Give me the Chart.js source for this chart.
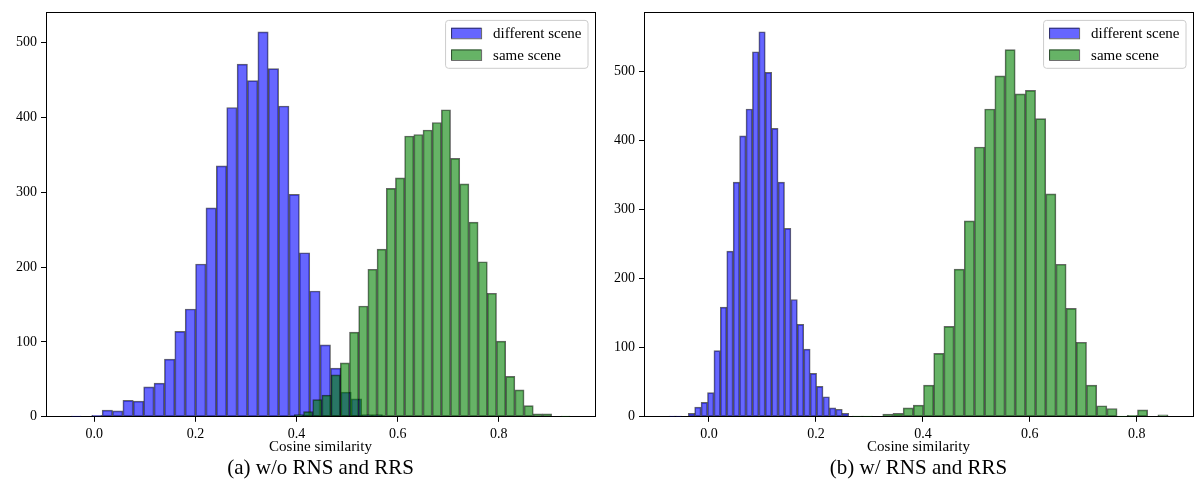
<!DOCTYPE html>
<html>
<head>
<meta charset="utf-8">
<title>Cosine similarity histograms</title>
<script src="https://cdn.jsdelivr.net/npm/chart.js@4.4.1/dist/chart.umd.min.js"></script>
<style>
    html, body { margin: 0; padding: 0; background: #fff; }
    .row { display: flex; width: 1194px; height: 481px; }
    .panel { width: 597px; height: 481px; }
</style>
</head>
<body>
<div class="row">
    <div class="panel"><canvas id="chartA" width="597" height="481"></canvas></div>
    <div class="panel"><canvas id="chartB" width="597" height="481"></canvas></div>
</div>
<script>
const seriesLabels = ['different scene', 'same scene'];
const xTickValues = [0.0, 0.2, 0.4, 0.6, 0.8];
const xTickLabels = ['0.0', '0.2', '0.4', '0.6', '0.8'];
const yTickValues = [0, 100, 200, 300, 400, 500];
const yTickLabels = ['0', '100', '200', '300', '400', '500'];
const xAxisTitle = 'Cosine similarity';

// (a) w/o RNS and RRS -- bins: first left edge + bin width
const aDiffStart = -0.0463;
const aDiffWidth = 0.02054;
const aDiffCounts = [1, 0, 2, 9, 8, 22, 21, 40, 45, 77, 114, 144, 204, 279, 335,
                     413, 471, 449, 514, 465, 415, 297, 219, 168, 96, 65, 33, 24, 3, 3];
const aSameStart = 0.3956;
const aSameWidth = 0.01818;
const aSameCounts = [3, 7, 23, 29, 56, 72, 113, 148, 197, 224, 305, 319, 375, 377, 383,
                     393, 410, 345, 311, 260, 207, 165, 101, 54, 36, 15, 4, 4, 0, 1];

// (b) w/ RNS and RRS
const bDiffStart = -0.0747;
const bDiffWidth = 0.0120;
const bDiffCounts = [1, 1, 0, 5, 14, 21, 35, 96, 159, 240, 340, 407, 446, 529, 558,
                     499, 418, 340, 273, 170, 134, 98, 63, 44, 29, 13, 11, 5];
const bSameStart = 0.2678;
const bSameWidth = 0.01905;
const bSameCounts = [1, 1, 0, 4, 5, 13, 17, 46, 92, 131, 214, 284, 391, 446, 494,
                     532, 468, 473, 432, 323, 221, 157, 108, 46, 16, 12, 1, 2, 10, 0, 3];

const BLUE = 'rgba(0, 0, 255, 0.6)';
const GREEN = 'rgba(0, 128, 0, 0.6)';
const EDGE = 'rgba(0, 0, 0, 0.6)';
const FONT = '"Liberation Serif", "Times New Roman", serif';

Chart.defaults.font.family = FONT;
Chart.defaults.color = '#000';

function binPoints(start, width, counts) {
    return counts.map((c, i) => ({ x: start + width * (i + 0.5), y: c }));
}

// matplotlib-style legend box in the upper right of the axes
const boxLegend = {
    id: 'boxLegend',
    afterDraw(chart) {
        const { ctx, chartArea } = chart;
        const fs = 15;
        const pad = 0.4 * fs, axPad = 0.5 * fs, handleW = 2 * fs, handleH = 0.7 * fs;
        const textPad = 0.8 * fs, rowH = 14.2, rowGap = 0.5 * fs;
        const items = chart.data.datasets;

        ctx.save();
        ctx.font = `${fs}px ${FONT}`;
        const textW = Math.max(...items.map(d => ctx.measureText(d.label).width));
        const boxW = pad * 2 + handleW + textPad + textW;
        const boxH = pad * 2 + items.length * rowH + (items.length - 1) * rowGap;
        const bx = chartArea.right - axPad - boxW;
        const by = chartArea.top + axPad;

        ctx.beginPath();
        ctx.roundRect(bx + 0.5, by + 0.5, boxW, boxH, 3);
        ctx.fillStyle = 'rgba(255, 255, 255, 0.8)';
        ctx.fill();
        ctx.strokeStyle = '#cccccc';
        ctx.lineWidth = 1;
        ctx.stroke();

        items.forEach((d, i) => {
            const cy = by + pad + i * (rowH + rowGap) + rowH / 2;
            const hx = bx + pad;
            ctx.fillStyle = '#fff';
            ctx.fillRect(hx, cy - handleH / 2, handleW, handleH);
            ctx.fillStyle = d.backgroundColor;
            ctx.fillRect(hx, cy - handleH / 2, handleW, handleH);
            ctx.strokeStyle = d.borderColor;
            ctx.strokeRect(hx + 0.5, cy - handleH / 2 + 0.5, handleW, handleH);
            ctx.fillStyle = '#000';
            ctx.textBaseline = 'middle';
            ctx.textAlign = 'left';
            ctx.fillText(d.label, hx + handleW + textPad, cy + 1);
        });
        ctx.restore();
    }
};

function makeHistChart(id, cfg) {
    const tickFont = { size: 14, family: FONT };
    return new Chart(document.getElementById(id), {
        type: 'bar',
        data: {
            datasets: [{
                label: seriesLabels[0],
                data: binPoints(cfg.diffStart, cfg.diffWidth, cfg.diffCounts),
                xAxisID: 'x',
                yAxisID: 'y',
                backgroundColor: BLUE,
                borderColor: EDGE,
                borderWidth: 1,
                borderSkipped: false,
                grouped: false,
                barPercentage: 1,
                categoryPercentage: 1,
                order: 1
            }, {
                label: seriesLabels[1],
                data: binPoints(cfg.sameStart, cfg.sameWidth, cfg.sameCounts),
                xAxisID: 'x2',
                yAxisID: 'y',
                backgroundColor: GREEN,
                borderColor: EDGE,
                borderWidth: 1,
                borderSkipped: false,
                grouped: false,
                barPercentage: 1,
                categoryPercentage: 1,
                order: 0
            }]
        },
        options: {
            responsive: false,
            animation: false,
            devicePixelRatio: 1,
            layout: { padding: { top: 7, right: cfg.rightPad, left: 0, bottom: 0 } },
            plugins: {
                legend: { display: false },
                tooltip: { enabled: false },
                title: {
                    display: true,
                    text: cfg.caption,
                    position: 'bottom',
                    fullSize: false,
                    color: '#000',
                    font: { size: 21, family: FONT, weight: 'normal' },
                    padding: 0
                }
            },
            scales: {
                x: {
                    type: 'linear',
                    position: 'bottom',
                    min: cfg.xMin,
                    max: cfg.xMax,
                    offset: false,
                    grid: { offset: false, drawOnChartArea: false, tickLength: 5, tickColor: '#000' },
                    border: { color: '#000', width: 1 },
                    ticks: {
                        font: tickFont,
                        color: '#000',
                        padding: 4,
                        maxRotation: 0,
                        callback: (v) => xTickLabels[xTickValues.findIndex(t => Math.abs(t - v) < 1e-9)]
                    },
                    afterBuildTicks: (s) => { s.ticks = xTickValues.map(v => ({ value: v })); },
                    afterFit: (s) => { s.height = 39; },
                    title: {
                        display: true,
                        text: xAxisTitle,
                        color: '#000',
                        font: { size: 15, family: FONT },
                        padding: { top: 0, bottom: 0 }
                    }
                },
                x2: {
                    type: 'linear',
                    position: 'top',
                    min: cfg.xMin,
                    max: cfg.xMax,
                    offset: false,
                    grid: { offset: false, drawOnChartArea: false, drawTicks: false },
                    border: { color: '#000', width: 1 },
                    ticks: { display: false },
                    afterFit: (s) => { s.height = 0; }
                },
                y: {
                    type: 'linear',
                    position: 'left',
                    min: 0,
                    max: cfg.yMax,
                    grid: { drawOnChartArea: false, tickLength: 5, tickColor: '#000' },
                    border: { color: '#000', width: 1 },
                    ticks: {
                        font: tickFont,
                        color: '#000',
                        padding: 4,
                        callback: (v) => yTickLabels[yTickValues.indexOf(v)]
                    },
                    afterBuildTicks: (s) => { s.ticks = yTickValues.map(v => ({ value: v })); },
                    afterFit: (s) => { s.width = cfg.yWidth; }
                },
                y2: {
                    type: 'linear',
                    position: 'right',
                    min: 0,
                    max: cfg.yMax,
                    grid: { drawOnChartArea: false, drawTicks: false },
                    border: { color: '#000', width: 1 },
                    ticks: { display: false },
                    afterFit: (s) => { s.width = 0; }
                }
            }
        },
        plugins: [boxLegend]
    });
}

makeHistChart('chartA', {
    caption: '(a) w/o RNS and RRS',
    diffStart: aDiffStart, diffWidth: aDiffWidth, diffCounts: aDiffCounts,
    sameStart: aSameStart, sameWidth: aSameWidth, sameCounts: aSameCounts,
    xMin: -0.0957, xMax: 0.9904, yMax: 540,
    yWidth: 46, rightPad: 2
});

makeHistChart('chartB', {
    caption: '(b) w/ RNS and RRS',
    diffStart: bDiffStart, diffWidth: bDiffWidth, diffCounts: bDiffCounts,
    sameStart: bSameStart, sameWidth: bSameWidth, sameCounts: bSameCounts,
    xMin: -0.1214, xMax: 0.905, yMax: 586,
    yWidth: 47, rightPad: 1
});
</script>
</body>
</html>
